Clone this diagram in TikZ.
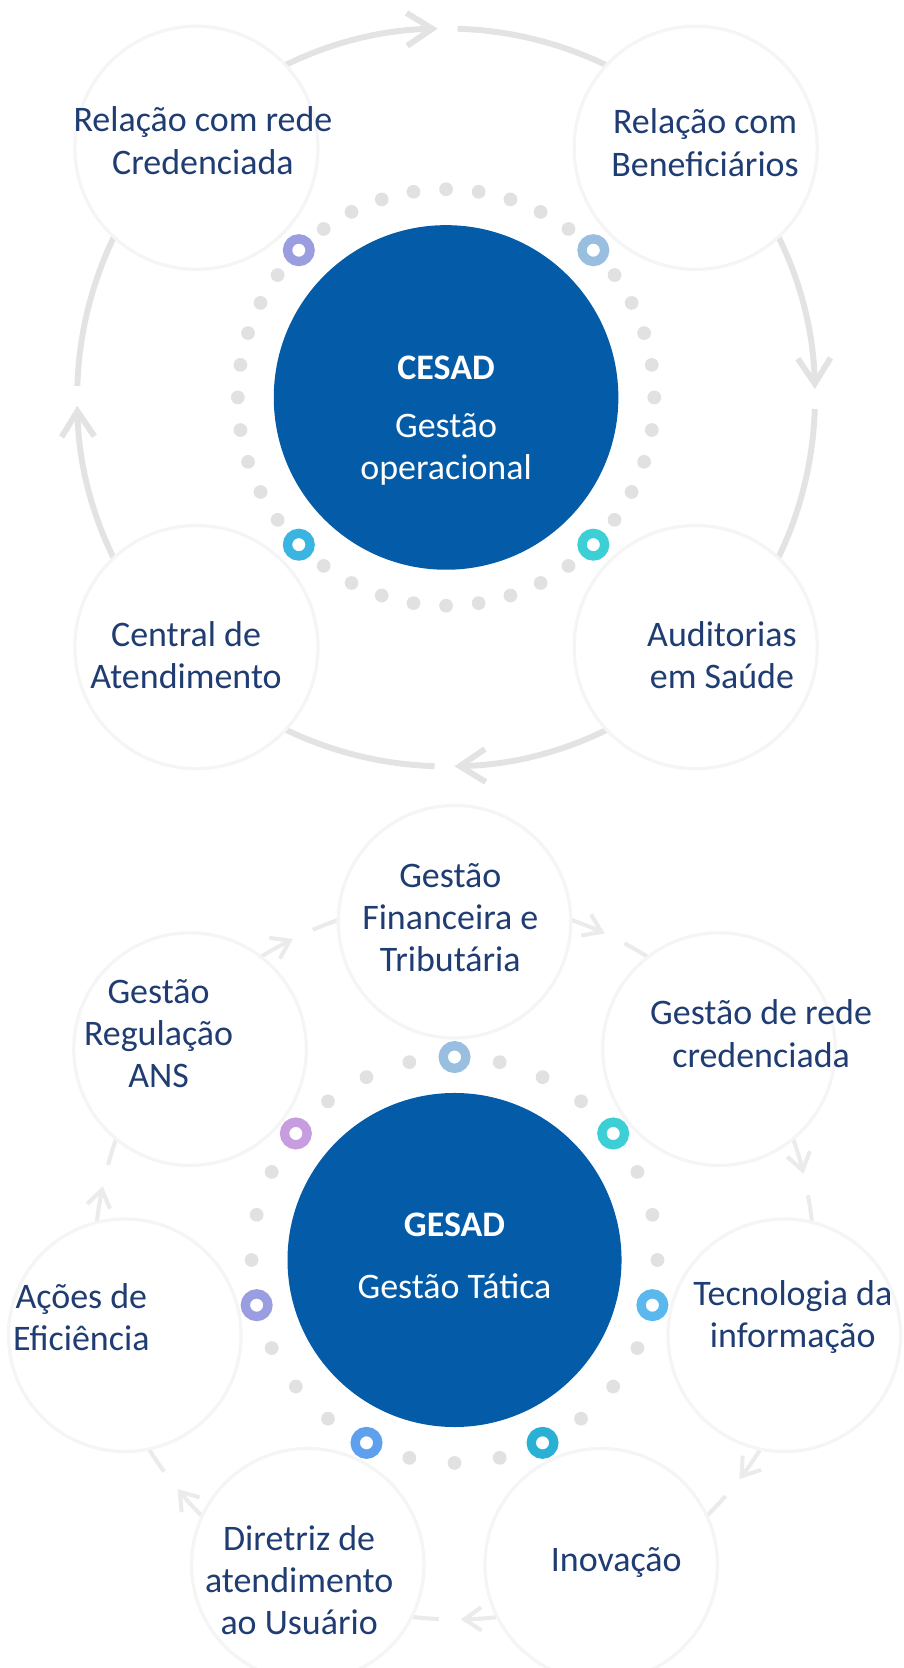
\documentclass[tikz,border=0pt]{standalone}
\usepackage{fontspec}
\setmainfont{Carlito}
\usepackage{tikz}
\usetikzlibrary{arrows.meta}

\definecolor{hubblue}{RGB}{4,91,168}
\definecolor{txtblue}{RGB}{31,61,114}
\definecolor{dotgray}{RGB}{225,225,225}
\definecolor{ringlav}{RGB}{154,157,224}
\definecolor{ringsteel}{RGB}{152,190,224}
\definecolor{ringturq}{RGB}{61,207,214}
\definecolor{ringcyan}{RGB}{58,180,224}
\definecolor{ringsky}{RGB}{91,184,238}
\definecolor{ringteal}{RGB}{43,176,213}
\definecolor{ringcorn}{RGB}{95,160,238}
\definecolor{ringorch}{RGB}{199,157,224}

\tikzset{
  hub/.style={circle, fill=hubblue, inner sep=0pt, minimum size=#1},
  sat/.style={circle, fill=white, draw=black!4, line width=1.5pt, inner sep=0pt, minimum size=#1},
  lbl/.style={text=txtblue, align=center, font=\fontsize{17}{20}\selectfont},
  hubtxt/.style={text=white, align=center, font=\fontsize{17}{20}\selectfont},
  dotmark/.style={circle, fill=dotgray, inner sep=0pt, minimum size=6.5pt},
  ringmark/.style={circle, draw=#1, line width=4.4pt, inner sep=0pt, minimum size=10.7pt},
  flowA/.style={draw=black!11, line width=2.8pt},
  flowB/.style={draw=black!8, line width=1.9pt}
}

\begin{document}
\begin{tikzpicture}[x=0.5pt, y=-0.5pt]
    \useasboundingbox[fill=white] (0,0) rectangle (855,1578);

    % CESAD
    \coordinate (hubA) at (422,376);
    \foreach \s in {225,315,45,135} {
      \draw[flowA, -{Straight Barb[length=12pt, width=15.5pt]}]
        (hubA) ++(\s:349) arc[start angle=\s, end angle=\s+43.7, radius=349];
      \draw[flowA] (hubA) ++(\s+46.8:349) arc[start angle=\s+46.8, end angle=\s+90, radius=349];
    }
    \path (hubA) ++(225:334) node[sat=115pt] (satRede) {}
          (hubA) ++(315:334) node[sat=115pt] (satBenef) {}
          (hubA) ++(45:334)  node[sat=115pt] (satAudit) {}
          (hubA) ++(135:334) node[sat=115pt] (satCentral) {};
    \foreach \s in {45,135,225,315}
      \foreach \j in {1,...,9}
        \path (hubA) ++(\s+\j*9:197) node[dotmark] {};
    \foreach \a/\c in {225/ringlav, 315/ringsteel, 45/ringturq, 135/ringcyan}
      \path (hubA) ++(\a:197) node[ringmark=\c] {};
    \node[hub=163pt] (cesad) at (hubA) {};
    \node[hubtxt, font=\fontsize{17}{20}\selectfont\bfseries] (cesadT) at (422,348) {CESAD};
    \node[hubtxt] (cesadS) at (422,425) {Gestão\\operacional};
    \node[lbl] (lblRede) at (192,133) {Relação com rede\\Credenciada};
    \node[lbl] (lblBenef) at (667,135) {Relação com\\Beneficiários};
    \node[lbl] (lblCentral) at (176,620) {Central de\\Atendimento};
    \node[lbl] (lblAudit) at (683,620) {Auditorias\\em Saúde};

    % GESAD
    \coordinate (hubB) at (430,1192);
    \foreach \k in {0,...,6} {
      \pgfmathsetmacro\s{-90+\k*360/7}
      \draw[flowB, -{Straight Barb[length=8pt, width=11pt]}]
        (hubB) ++(\s:340) arc[start angle=\s, end angle=\s+24.7, radius=340];
      \draw[flowB] (hubB) ++(\s+28.2:340) arc[start angle=\s+28.2, end angle=\s+51.43, radius=340];
    }
    \path (hubB) ++(-90:320)    node[sat=110pt] (satFin) {}
          (hubB) ++(-38.57:320) node[sat=110pt] (satRedeB) {}
          (hubB) ++(12.86:320)  node[sat=110pt] (satTI) {}
          (hubB) ++(64.29:320)  node[sat=110pt] (satInov) {}
          (hubB) ++(115.71:320) node[sat=110pt] (satDir) {}
          (hubB) ++(167.14:320) node[sat=110pt] (satAcoes) {}
          (hubB) ++(218.57:320) node[sat=110pt] (satReg) {};
    \foreach \k in {0,...,6}
      \foreach \j in {1,2,3}
        \path (hubB) ++(-90+\k*360/7+\j*360/28:192) node[dotmark] {};
    \foreach \a/\c in {-90/ringsteel, -38.57/ringturq, 12.86/ringsky, 64.29/ringteal,
                       115.71/ringcorn, 167.14/ringlav, 218.57/ringorch}
      \path (hubB) ++(\a:192) node[ringmark=\c] {};
    \node[hub=158pt] (gesad) at (hubB) {};
    \node[hubtxt, font=\fontsize{17}{20}\selectfont\bfseries] (gesadT) at (430,1159) {GESAD};
    \node[hubtxt] (gesadS) at (430,1217) {Gestão Tática};
    \node[lbl] (lblFin) at (426,868) {Gestão\\Financeira e\\Tributária};
    \node[lbl] (lblRedeB) at (720,978) {Gestão de rede\\credenciada};
    \node[lbl] (lblTI) at (750,1246) {Tecnologia da\\informação};
    \node[lbl] (lblInov) at (583,1478) {Inovação};
    \node[lbl] (lblDir) at (283,1495) {Diretriz de\\atendimento\\ao Usuário};
    \node[lbl] (lblAcoes) at (77,1246) {Ações de\\Eficiência};
    \node[lbl] (lblReg) at (150,978) {Gestão\\Regulação\\ANS};
\end{tikzpicture}
\end{document}
